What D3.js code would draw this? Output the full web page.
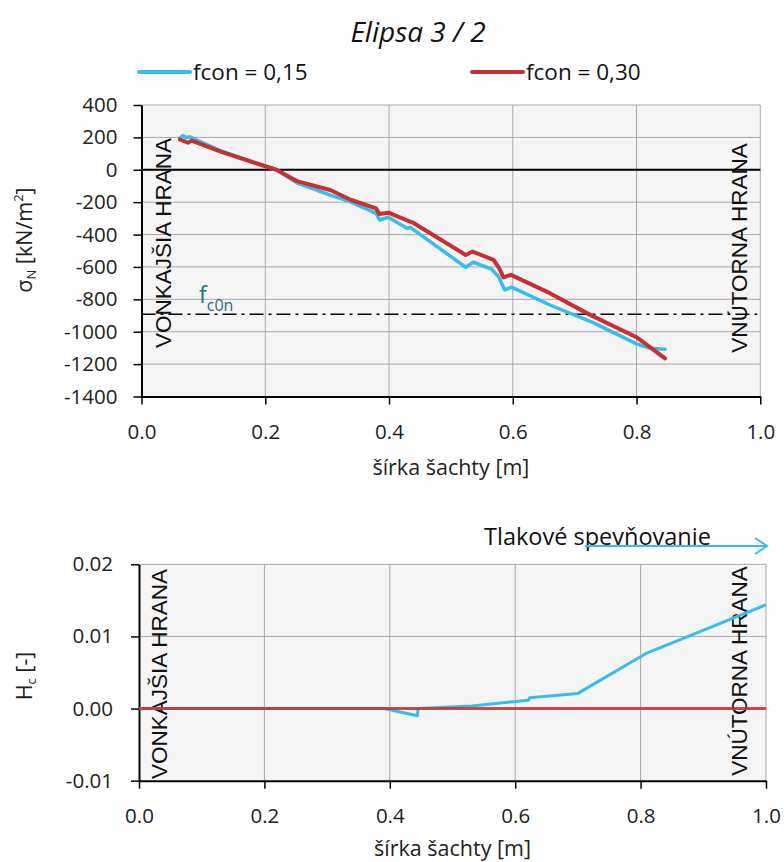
<!DOCTYPE html>
<html>
<head>
<meta charset="utf-8">
<script src="https://cdn.jsdelivr.net/npm/d3@7"></script>
<style>
  html, body { margin: 0; padding: 0; background: #ffffff; }
  svg { display: block; }
  text { font-family: "Open Sans", "Noto Sans", sans-serif; }
</style>
</head>
<body>
<svg id="chart" width="784" height="862"></svg>
<script>
// ---------- DATA ----------
const chartTitle = "Elipsa 3 / 2";
const seriesNames = ["fcon = 0,15", "fcon = 0,30"];
const seriesColors = ["#35bdf0", "#c8302f"];

// top chart: sigma_N [kN/m2] vs width [m]
const blueWidth = [0.062, 0.067, 0.072, 0.078, 0.127, 0.183, 0.218, 0.251, 0.305, 0.337, 0.379, 0.385, 0.399, 0.429, 0.435, 0.524, 0.536, 0.566, 0.577, 0.587, 0.598, 0.660, 0.730, 0.800, 0.822, 0.846];
const blueSigma = [195, 212, 198, 204, 118, 45, 0, -80, -156, -197, -269, -310, -293, -361, -357, -602, -571, -614, -660, -742, -725, -835, -944, -1075, -1102, -1108];
const redWidth  = [0.062, 0.075, 0.081, 0.127, 0.183, 0.218, 0.251, 0.305, 0.338, 0.379, 0.384, 0.399, 0.434, 0.439, 0.524, 0.535, 0.569, 0.578, 0.585, 0.597, 0.660, 0.725, 0.800, 0.846];
const redSigma  = [188, 167, 180, 114, 42, 0, -70, -125, -185, -238, -273, -265, -320, -327, -526, -505, -557, -608, -664, -649, -762, -896, -1034, -1164];
const fc0nValue = -892;

// bottom chart: Hc [-] vs width [m]
const blueHcWidth = [0.0, 0.391, 0.444, 0.445, 0.531, 0.621, 0.623, 0.700, 0.810, 1.0];
const blueHc      = [0.0, 0.0, -0.001, 0.0, 0.00037, 0.00115, 0.0015, 0.0021, 0.0077, 0.0144];
const redHcWidth  = [0.0, 1.0];
const redHc       = [0.0, 0.0];

const xTicks = [0.0, 0.2, 0.4, 0.6, 0.8, 1.0];
const topYTicks = [400, 200, 0, -200, -400, -600, -800, -1000, -1200, -1400];
const botYTicks = [0.02, 0.01, 0.00, -0.01];
const xTitle = "šírka šachty [m]";
const edgeLeft = "VONKAJŠIA HRANA";
const edgeRight = "VNÚTORNA HRANA";
const arrowLabel = "Tlakové spevňovanie";

// ---------- DRAW ----------
const svg = d3.select("#chart");
const zip = (xs, ys) => xs.map((x, i) => ({x, y: ys[i]}));
const loc = d3.formatLocale({decimal: ".", thousands: "", grouping: [3], currency: ["", ""], minus: "-"});

function panel(cfg) {
  const g = svg.append("g");
  const x = d3.scaleLinear().domain([0, 1]).range([cfg.x0, cfg.x1]);
  const y = d3.scaleLinear().domain(cfg.yDomain).range([cfg.y1, cfg.y0]);

  g.append("rect").attr("x", cfg.x0).attr("y", cfg.y0)
    .attr("width", cfg.x1 - cfg.x0).attr("height", cfg.y1 - cfg.y0)
    .attr("fill", "#f5f5f5");

  g.append("g").selectAll("line").data(xTicks.filter(d => d > 0)).join("line")
    .attr("x1", d => x(d)).attr("x2", d => x(d))
    .attr("y1", cfg.y0).attr("y2", cfg.y1)
    .attr("stroke", "#a8a8a8").attr("stroke-width", 1);
  g.append("g").selectAll("line").data(cfg.yTicks.filter(d => d > cfg.yDomain[0])).join("line")
    .attr("x1", cfg.x0).attr("x2", cfg.x1)
    .attr("y1", d => y(d)).attr("y2", d => y(d))
    .attr("stroke", "#a8a8a8").attr("stroke-width", 1);

  const xa = d3.axisBottom(x).tickValues(xTicks).tickFormat(loc.format(".1f")).tickSize(8).tickSizeOuter(0);
  const xg = g.append("g").attr("transform", `translate(0,${cfg.y1})`).call(xa);
  xg.select(".domain").attr("stroke", "#000").attr("stroke-width", 2);
  xg.selectAll(".tick line").attr("stroke", "#000").attr("stroke-width", 1.5);
  xg.selectAll(".tick text").attr("font-size", 20.5).attr("fill", "#222").attr("y", 28).attr("dy", "0.71em")
    .style("font-family", '"Open Sans", sans-serif');

  const ya = d3.axisLeft(y).tickValues(cfg.yTicks).tickFormat(cfg.yFormat).tickSize(8).tickSizeOuter(0);
  const yg = g.append("g").attr("transform", `translate(${cfg.x0},0)`).call(ya);
  yg.select(".domain").attr("stroke", "#000").attr("stroke-width", 2);
  yg.selectAll(".tick line").attr("stroke", "#000").attr("stroke-width", 1.5);
  yg.selectAll(".tick text").attr("font-size", 20.5).attr("fill", "#222").attr("x", cfg.yLabelOff)
    .style("font-family", '"Open Sans", sans-serif');

  g.append("text").attr("x", (cfg.x0 + cfg.x1) / 2).attr("y", cfg.xTitleY)
    .attr("text-anchor", "middle").attr("font-size", 21.5).attr("fill", "#222").text(xTitle);

  const yt = g.append("text").attr("transform", `translate(${cfg.yTitleX},${cfg.yTitleY}) rotate(-90)`)
    .attr("text-anchor", "middle").attr("font-size", 21.5).attr("fill", "#222");
  cfg.yTitle(yt);

  [[cfg.leftEdgeX, edgeLeft, cfg.leftEdgeY], [cfg.rightEdgeX, edgeRight, cfg.rightEdgeY]].forEach(([ex, t, ey]) => {
    g.append("text").attr("transform", `translate(${ex},${ey}) rotate(-90)`)
      .attr("text-anchor", "middle").attr("font-size", 22.5).attr("fill", "#111")
      .style("font-family", '"Liberation Sans", Arial, sans-serif').text(t);
  });

  return {g, x, y};
}

svg.append("text").attr("x", 418).attr("y", 42).attr("text-anchor", "middle")
  .attr("font-size", 28).attr("font-style", "italic").attr("fill", "#111").text(chartTitle);

const legendX = [139, 472];
seriesNames.forEach((n, i) => {
  svg.append("line").attr("x1", legendX[i]).attr("x2", legendX[i] + 51).attr("y1", 72).attr("y2", 72)
    .attr("stroke", seriesColors[i]).attr("stroke-width", 4).attr("stroke-linecap", "round");
  svg.append("text").attr("x", legendX[i] + 54).attr("y", 80).attr("font-size", 22.5).attr("fill", "#111").text(n);
});

// ---- Top panel ----
const topP = panel({
  x0: 141.5, x1: 760.3, y0: 105, y1: 396.5,
  yDomain: [-1400, 400], yTicks: topYTicks, yFormat: loc.format("d"), yLabelOff: -24,
  xTitleY: 475, yTitleX: 32, yTitleY: 240,
  yTitle: t => { t.append("tspan").text("σ"); t.append("tspan").attr("font-size", 13).attr("dy", 4).text("N");
                 t.append("tspan").attr("dy", -4).text(" [kN/m"); t.append("tspan").attr("font-size", 13).attr("dy", -9).text("2");
                 t.append("tspan").attr("dy", 9).text("]"); },
  leftEdgeX: 171, leftEdgeY: 243, rightEdgeX: 747, rightEdgeY: 248
});
topP.g.append("line").attr("x1", topP.x(0)).attr("x2", topP.x(1)).attr("y1", topP.y(0)).attr("y2", topP.y(0))
  .attr("stroke", "#000").attr("stroke-width", 2);
topP.g.append("line").attr("x1", topP.x(0)).attr("x2", topP.x(1) - 3).attr("y1", topP.y(fc0nValue)).attr("y2", topP.y(fc0nValue))
  .attr("stroke", "#000").attr("stroke-width", 1.5).attr("stroke-dasharray", "14,5,3,5");
const fl = topP.g.append("text").attr("x", 199).attr("y", 303).attr("fill", "#2e6c7c").attr("font-size", 23);
fl.append("tspan").text("f");
fl.append("tspan").attr("font-size", 16).attr("dy", 8).text("c0n");

const lineGen = (sx, sy) => d3.line().x(d => sx(d.x)).y(d => sy(d.y));
topP.g.append("path").datum(zip(blueWidth, blueSigma)).attr("d", lineGen(topP.x, topP.y))
  .attr("fill", "none").attr("stroke", seriesColors[0]).attr("stroke-width", 3.5).attr("stroke-linejoin", "round").attr("stroke-linecap", "round");
topP.g.append("path").datum(zip(redWidth, redSigma)).attr("d", lineGen(topP.x, topP.y))
  .attr("fill", "none").attr("stroke", seriesColors[1]).attr("stroke-width", 4).attr("stroke-linejoin", "round").attr("stroke-linecap", "round");

// ---- Bottom panel ----
const botP = panel({
  x0: 139, x1: 766, y0: 564.3, y1: 780.7,
  yDomain: [-0.01, 0.02], yTicks: botYTicks, yFormat: loc.format(".2f"), yLabelOff: -26,
  xTitleY: 856, yTitleX: 32, yTitleY: 676,
  yTitle: t => { t.append("tspan").text("H"); t.append("tspan").attr("font-size", 13).attr("dy", 4).text("c");
                 t.append("tspan").attr("dy", -4).text(" [-]"); },
  leftEdgeX: 167, leftEdgeY: 674, rightEdgeX: 747, rightEdgeY: 671
});
botP.g.append("path").datum(zip(blueHcWidth, blueHc)).attr("d", lineGen(botP.x, botP.y))
  .attr("fill", "none").attr("stroke", seriesColors[0]).attr("stroke-width", 3).attr("stroke-linejoin", "round");
botP.g.append("path").datum(zip(redHcWidth, redHc)).attr("d", lineGen(botP.x, botP.y))
  .attr("fill", "none").attr("stroke", seriesColors[1]).attr("stroke-width", 3).attr("stroke-opacity", 0.85);

svg.append("text").attr("x", 484).attr("y", 545).attr("font-size", 23.5).attr("fill", "#111").text(arrowLabel);
svg.append("line").attr("x1", 585).attr("x2", 767).attr("y1", 546).attr("y2", 546)
  .attr("stroke", seriesColors[0]).attr("stroke-width", 2);
svg.append("path").attr("d", "M755,538 L767,546 L755,554").attr("fill", "none")
  .attr("stroke", seriesColors[0]).attr("stroke-width", 2);
</script>
</body>
</html>
